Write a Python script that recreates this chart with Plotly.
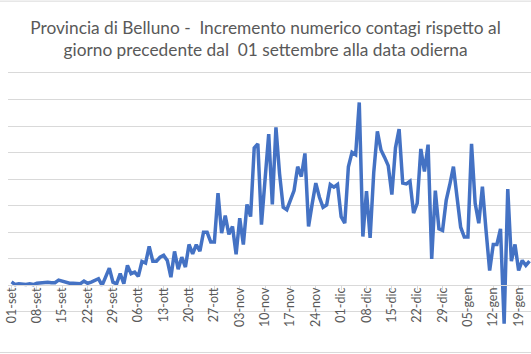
import plotly.graph_objects as go
import pandas as pd

start_date = "2020-09-01"
values = [1.3, 0.3, 0.6, 0.4, 0.3, 0.6, 0.3, 0.8, 1.0, 1.2,
          1.2, 1.0, 1.0, 2.0, 1.5, 1.0, 0.8, 0.8, 0.6, 0.6,
          1.6, 0.8, 1.2, 2.0, 2.5, 0.0, 3.0, 6.5, 1.2, 0.6,
          4.4, 0.6, 7.5, 4.4, 5.0, 3.4, 9.0, 8.4, 14.7, 9.1,
          9.1, 10.6, 11.3, 9.4, 3.1, 12.8, 6.1, 10.6, 6.9, 15.4,
          11.9, 15.3, 12.9, 20.0, 20.0, 16.3, 16.3, 34.7, 19.7, 26.3,
          19.2, 22.2, 11.7, 25.3, 15.4, 30.5, 25.9, 51.8, 53.3, 22.9,
          40.0, 57.0, 30.5, 59.5, 42.0, 29.4, 28.5, 32.2, 35.7, 44.7,
          41.0, 49.7, 22.2, 30.7, 38.5, 33.2, 29.4, 30.3, 38.0, 37.0,
          38.0, 25.9, 23.4, 44.7, 50.1, 49.2, 68.9, 18.4, 35.5, 17.9,
          42.6, 58.0, 51.0, 48.2, 45.1, 34.2, 51.8, 58.9, 38.5, 38.2,
          39.2, 27.2, 30.9, 51.4, 42.9, 53.0, 10.0, 35.7, 21.3, 20.7,
          32.0, 38.0, 44.7, 33.2, 21.9, 18.2, 18.2, 53.3, 30.9, 23.4,
          37.2, 20.7, 5.6, 15.4, 15.4, 21.3, -14.4, 36.3, 9.1, 15.4,
          5.6, 9.4, 7.5, 9.1]
tick_labels = ["01-set", "08-set", "15-set", "22-set", "29-set", "06-ott", "13-ott",
               "20-ott", "27-ott", "03-nov", "10-nov", "17-nov", "24-nov", "01-dic",
               "08-dic", "15-dic", "22-dic", "29-dic", "05-gen", "12-gen", "19-gen"]
title_text = ("Provincia di Belluno -\u00a0 Incremento numerico contagi rispetto al<br>"
              "giorno precedente dal\u00a0 01 settembre alla data odierna")

dates = pd.date_range(start_date, periods=len(values), freq="D")
tick_vals = list(dates[::7][:len(tick_labels)])

fig = go.Figure()
fig.add_trace(go.Scatter(x=dates, y=values, mode="lines",
                         line=dict(color="#4472C4", width=3.5)))

grey = "#d9d9d9"
top_m, bot_m = 69, 14.5
plot_h = 354 - top_m - bot_m
fig.update_layout(
    width=531, height=354,
    margin=dict(l=8, r=0, t=top_m, b=bot_m),
    paper_bgcolor="white", plot_bgcolor="white",
    showlegend=False,
    title=dict(text=title_text, x=0.5, xanchor="center", xref="container",
               y=0.904, yanchor="top", yref="container",
               font=dict(family="Lato", size=17.3, color="#595959")),
    xaxis=dict(range=[pd.Timestamp("2020-08-31 00:30"), pd.Timestamp("2021-01-22 10:00")],
               tickvals=tick_vals, ticktext=tick_labels, tickangle=-90,
               anchor="free", position=(354 - bot_m - 285) / plot_h,
               showline=True, linecolor=grey, linewidth=1,
               ticks="outside", ticklen=4, tickcolor=grey,
               ticklabelstandoff=-7,
               showgrid=False, zeroline=False,
               tickfont=dict(family="Lato", size=12.5, color="#595959")),
    yaxis=dict(range=[-20.2, 81.5], dtick=10, showticklabels=False,
               showgrid=True, gridcolor=grey, gridwidth=1, zeroline=False,
               showline=False, ticks=""),
    shapes=[
        dict(type="line", xref="paper", yref="paper", x0=-0.02, x1=1.01,
             y0=(354 - bot_m - 1) / plot_h, y1=(354 - bot_m - 1) / plot_h,
             line=dict(color=grey, width=1)),
        dict(type="line", xref="paper", yref="paper", x0=-0.02, x1=1.01,
             y0=(354 - bot_m - 353) / plot_h, y1=(354 - bot_m - 353) / plot_h,
             line=dict(color=grey, width=1)),
    ],
)

fig.write_html("out.html")
